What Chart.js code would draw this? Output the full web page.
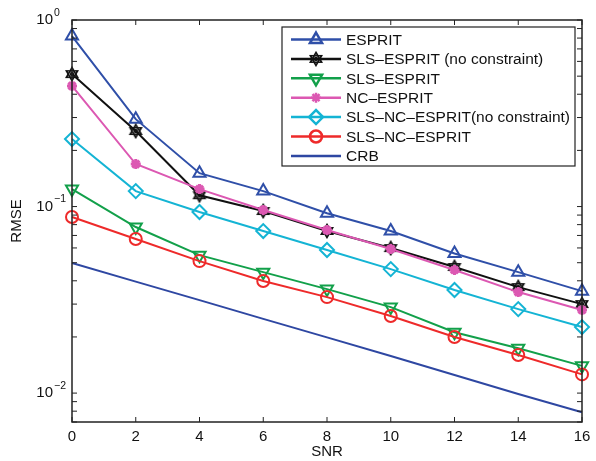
<!DOCTYPE html>
<html><head><meta charset="utf-8">
<script src="https://cdn.jsdelivr.net/npm/chart.js@4/dist/chart.umd.min.js"></script>
<style>html,body{margin:0;padding:0;background:#fff;}#wrap{width:596px;height:461px;position:relative}</style>
</head><body><div id="wrap"><canvas id="c" width="596" height="461"></canvas></div>
<script>
// ---- data ----
const snr = [0, 2, 4, 6, 8, 10, 12, 14, 16];
const esprit        = [0.82, 0.294, 0.151, 0.121, 0.092, 0.074, 0.056, 0.0445, 0.0352];
const slsEspritNoC  = [0.513, 0.254, 0.115, 0.0946, 0.074, 0.0599, 0.0474, 0.037, 0.030];
const slsEsprit     = [0.124, 0.0777, 0.0549, 0.0445, 0.0361, 0.0289, 0.0212, 0.0174, 0.0140];
const ncEsprit      = [0.443, 0.169, 0.124, 0.0958, 0.0748, 0.0592, 0.0457, 0.0348, 0.0279];
const slsNcEspritNoC= [0.230, 0.121, 0.0935, 0.0739, 0.0585, 0.0462, 0.0357, 0.0282, 0.0226];
const slsNcEsprit   = [0.0879, 0.067, 0.051, 0.0399, 0.0327, 0.0259, 0.0200, 0.016, 0.0126];
const crb           = [0.0498, 0.0396, 0.0315, 0.025, 0.0199, 0.0158, 0.0125, 0.0099, 0.0079];
const seriesNames = ['ESPRIT', 'SLS–ESPRIT (no constraint)', 'SLS–ESPRIT', 'NC–ESPRIT',
                     'SLS–NC–ESPRIT(no constraint)', 'SLS–NC–ESPRIT', 'CRB'];
const yMajorTicks = [0.01, 0.1, 1];
const yTickBase = '10';
const yTickExponents = ['−2', '−1', '0'];
const xTicks = [0, 2, 4, 6, 8, 10, 12, 14, 16];
const xTitle = 'SNR';
const yTitle = 'RMSE';

// ---- custom marker: hexagram ----
function makeHexagram(color){
  const c = document.createElement('canvas'); c.width = 16; c.height = 16;
  const g = c.getContext('2d');
  g.strokeStyle = color; g.fillStyle = color; g.lineWidth = 1.6;
  const cx = 8, cy = 8, r = 6.5;
  for (const off of [-Math.PI/2, Math.PI/2]) {
    g.beginPath();
    for (let i = 0; i < 3; i++) {
      const a = off + i * 2 * Math.PI / 3;
      const px = cx + r * Math.cos(a), py = cy + r * Math.sin(a);
      if (i === 0) g.moveTo(px, py); else g.lineTo(px, py);
    }
    g.closePath(); g.stroke();
  }
  g.beginPath(); g.arc(cx, cy, 2.2, 0, Math.PI*2); g.fill();
  return c;
}
const hexBlack = makeHexagram('#111111');

const none = 'rgba(0,0,0,0)';
function ds(label, vals, color, style, radius, rotation, bw){
  return {
    label, data: snr.map((x, i) => ({x, y: vals[i]})),
    borderColor: color, backgroundColor: none, borderWidth: 2,
    pointStyle: style, pointRadius: radius, pointRotation: rotation || 0,
    pointBorderColor: color, pointBackgroundColor: none, pointBorderWidth: bw || 2,
    pointHoverRadius: radius, tension: 0, clip: false, fill: false
  };
}
const datasets = [
  ds(seriesNames[0], esprit, '#2F4FA8', 'triangle', 7, 0, 2),
  ds(seriesNames[1], slsEspritNoC, '#111111', hexBlack, 7, 0, 2),
  ds(seriesNames[2], slsEsprit, '#12A04A', 'triangle', 7, 180, 2),
  ds(seriesNames[3], ncEsprit, '#DC58B2', 'star', 5, 0, 3),
  ds(seriesNames[4], slsNcEspritNoC, '#14B4D4', 'rectRot', 7, 0, 2),
  ds(seriesNames[5], slsNcEsprit, '#EE2A2A', 'circle', 6, 0, 2),
  ds(seriesNames[6], crb, '#2E47A2', false, 0, 0, 0)
];
datasets.forEach((d, i) => d.order = datasets.length - i);

const FONT = "'Liberation Sans', Arial, Helvetica, sans-serif";

const framePlugin = {
  id: 'frame',
  afterDatasetsDraw(chart){
    const {ctx, chartArea: a, scales: {x, y}} = chart;
    ctx.save();
    ctx.strokeStyle = '#222'; ctx.lineWidth = 1.5;
    ctx.strokeRect(a.left, a.top, a.right - a.left, a.bottom - a.top);
    const L = 5;
    ctx.beginPath();
    xTicks.forEach(v => {
      const px = x.getPixelForValue(v);
      ctx.moveTo(px, a.bottom); ctx.lineTo(px, a.bottom - L);
      ctx.moveTo(px, a.top); ctx.lineTo(px, a.top + L);
    });
    for (let e = -3; e <= 0; e++) {
      for (let k = 1; k <= 9; k++) {
        const v = k * Math.pow(10, e);
        if (v < y.min - 1e-12 || v > y.max + 1e-12) continue;
        const py = y.getPixelForValue(v);
        ctx.moveTo(a.left, py); ctx.lineTo(a.left + L, py);
        ctx.moveTo(a.right, py); ctx.lineTo(a.right - L, py);
      }
    }
    ctx.lineWidth = 1; ctx.stroke();
    // superscript exponents of the y tick labels
    ctx.font = '10.5px ' + FONT; ctx.fillStyle = '#111';
    ctx.textAlign = 'left'; ctx.textBaseline = 'middle';
    yMajorTicks.forEach((v, i) => {
      const py = y.getPixelForValue(v);
      ctx.fillText(yTickExponents[i], a.left - 18, py - 7);
    });
    ctx.restore();
  },
  afterDraw(chart){
    const {ctx, chartArea: a} = chart;
    const bx = a.left + 210, by = a.top + 7, bw = a.right - 7 - bx, bh = 139;
    ctx.save();
    ctx.fillStyle = '#fff'; ctx.fillRect(bx, by, bw, bh);
    ctx.strokeStyle = '#222'; ctx.lineWidth = 1.2; ctx.strokeRect(bx, by, bw, bh);
    ctx.font = '15.5px ' + FONT; ctx.textBaseline = 'middle'; ctx.fillStyle = '#111';
    chart.data.datasets.forEach((d, i) => {
      const ry = by + 12.5 + i * 19.4;
      ctx.strokeStyle = d.borderColor; ctx.lineWidth = 2.5;
      ctx.beginPath(); ctx.moveTo(bx + 9, ry); ctx.lineTo(bx + 59, ry); ctx.stroke();
      if (d.pointStyle) {
        ctx.fillStyle = none; ctx.strokeStyle = d.pointBorderColor;
        Chart.helpers.drawPoint(ctx, {pointStyle: d.pointStyle, rotation: d.pointRotation,
          radius: d.pointRadius, borderWidth: d.pointBorderWidth}, bx + 34, ry);
      }
      ctx.fillStyle = '#111';
      ctx.fillText(d.label, bx + 64, ry + 1);
    });
    ctx.restore();
  }
};

new Chart(document.getElementById('c'), {
  type: 'line',
  data: { datasets },
  options: {
    responsive: false, devicePixelRatio: 1, animation: false,
    layout: { padding: { left: 0, top: 20, right: 14, bottom: 0 } },
    plugins: { legend: { display: false }, tooltip: { enabled: false } },
    scales: {
      x: {
        type: 'linear', min: 0, max: 16,
        afterBuildTicks: s => { s.ticks = xTicks.map(v => ({value: v})); },
        ticks: { font: { family: FONT, size: 15 }, color: '#111', padding: 6, maxRotation: 0 },
        grid: { display: false, drawTicks: false },
        border: { display: false },
        title: { display: true, text: xTitle, font: { family: FONT, size: 15 }, color: '#111', padding: { top: 0, bottom: 0 } },
        afterFit: s => { s.height = 39; s.paddingLeft = 0; s.paddingRight = 0; }
      },
      y: {
        type: 'logarithmic', min: 0.007, max: 1,
        afterBuildTicks: s => { s.ticks = yMajorTicks.map(v => ({value: v, major: true})); },
        ticks: {
          font: { family: FONT, size: 15 }, color: '#111', padding: 19,
          callback: (v) => {
            const i = yMajorTicks.findIndex(t => Math.abs(Math.log10(t) - Math.log10(v)) < 1e-6);
            return i >= 0 ? yTickBase : '';
          }
        },
        grid: { display: false, drawTicks: false },
        border: { display: false },
        title: { display: true, text: yTitle, font: { family: FONT, size: 15 }, color: '#111', padding: { top: 8, bottom: 0 } },
        afterFit: s => { s.width = 72; s.paddingTop = 0; s.paddingBottom = 0; }
      }
    }
  },
  plugins: [framePlugin]
});
</script></body></html>
